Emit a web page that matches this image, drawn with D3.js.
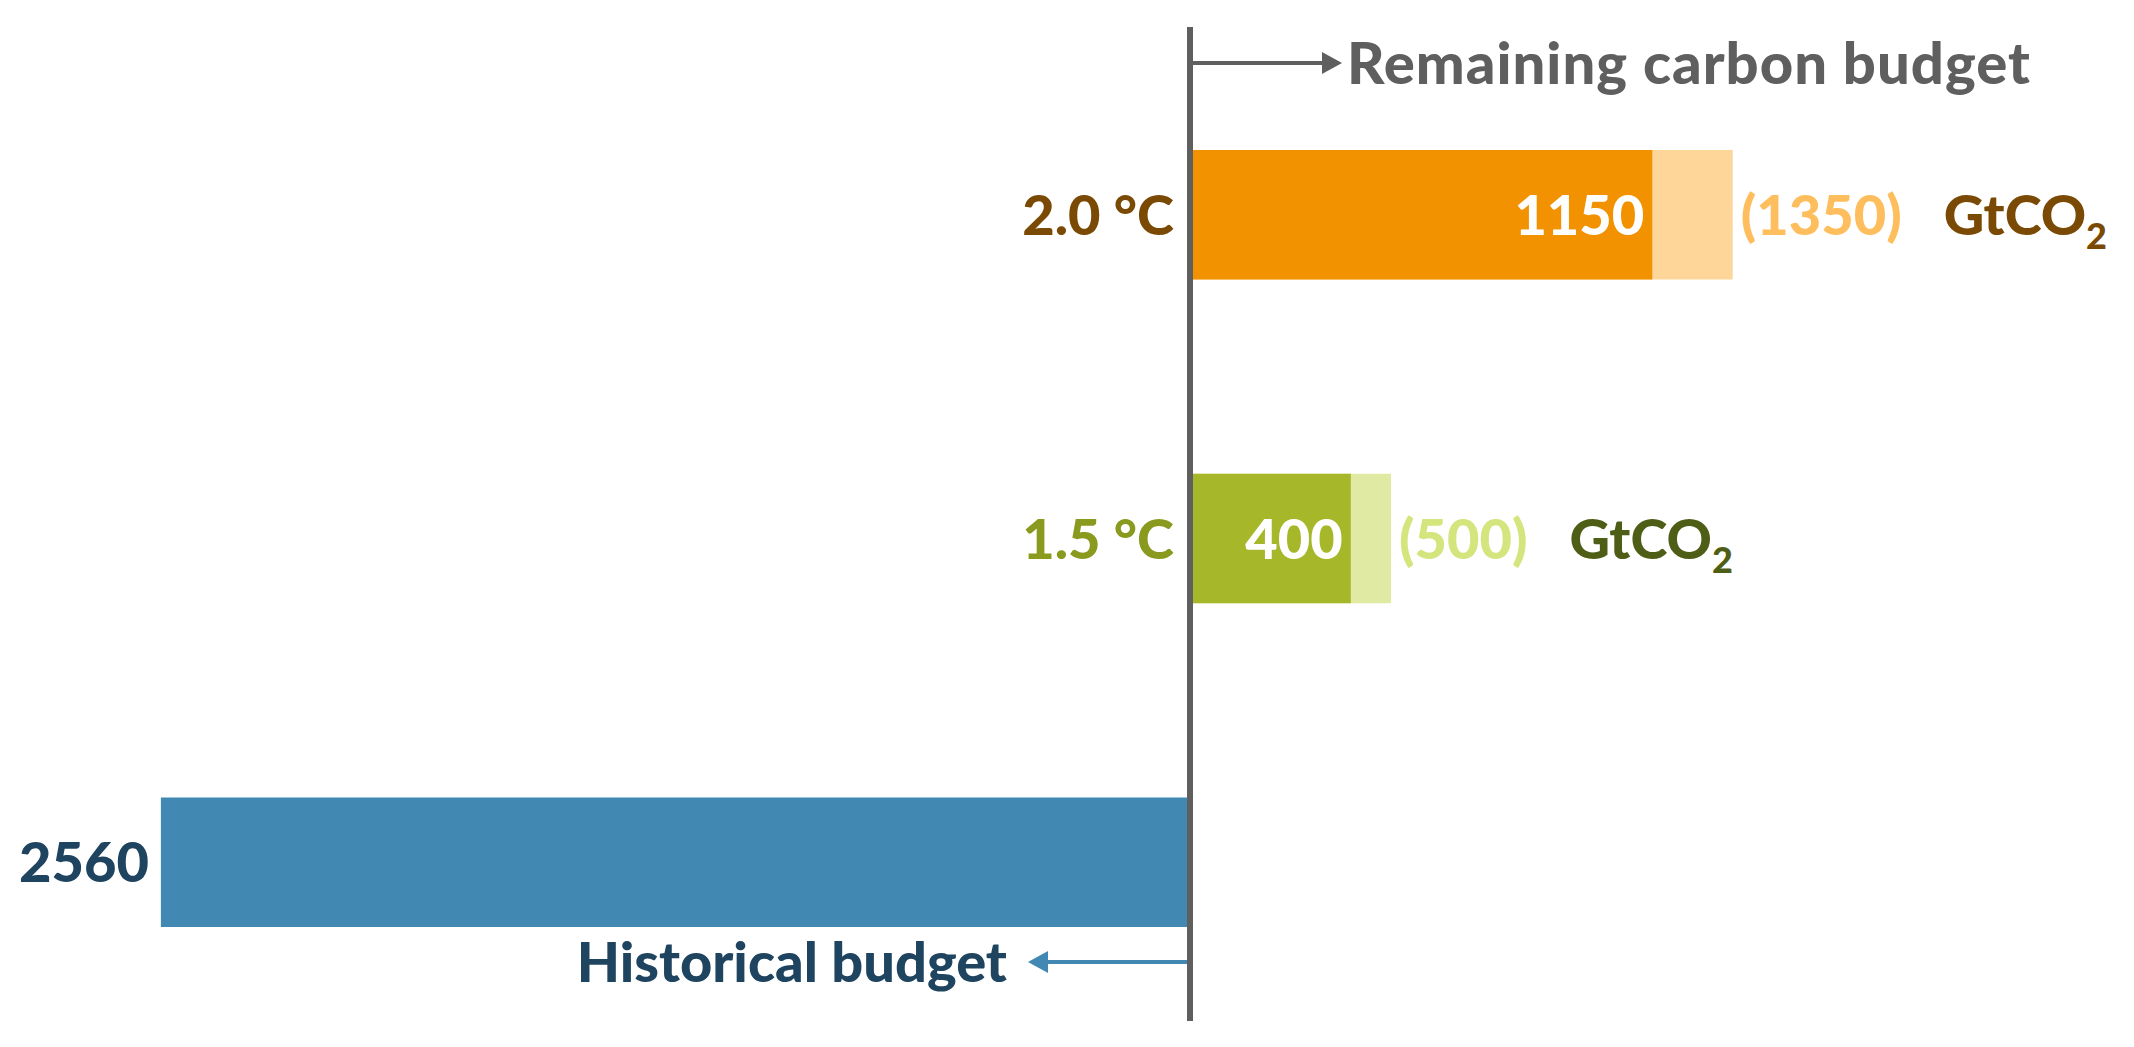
<!DOCTYPE html>
<html><head><meta charset="utf-8">
<script src="https://cdn.jsdelivr.net/npm/d3@7"></script>
<style>body{margin:0;background:#fff}text{font-family:Lato,"Open Sans",sans-serif;font-weight:900}</style>
</head><body><svg id="c" width="2134" height="1047"></svg>
<script>
// remaining budgets (central and upper estimate), historical budget
var targets = ["2.0 °C", "1.5 °C"];
var central = [1150, 400];
var upper = [1350, 500];
var historical = 2560;

var svg = d3.select("#c");
var x0 = 1190;
var x = d3.scaleLinear().domain([0, 1000]).range([0, 402]);
var y = d3.scaleBand().domain(["2.0 °C", "1.5 °C", "hist"]).range([150, 927]).paddingInner(0.6);

var dark = ["#F39200", "#A6B82A"], light = ["#FED699", "#E1EAA3"];
var labelCol = ["#7A4A04", "#8A9A1F"], unitCol = ["#7A4A04", "#4F5E16"], upCol = ["#FFBE5E", "#D5E57E"];
var fs = 56;

targets.forEach(function(t, i) {
  var yy = y(t), h = y.bandwidth(), mid = yy + h / 2 + 20;
  svg.append("rect").attr("x", x0).attr("y", yy).attr("width", x(upper[i])).attr("height", h).attr("fill", light[i]);
  svg.append("rect").attr("x", x0).attr("y", yy).attr("width", x(central[i])).attr("height", h).attr("fill", dark[i]);
  svg.append("text").attr("x", x0 - 16).attr("y", mid).attr("text-anchor", "end").attr("font-size", fs).attr("fill", labelCol[i]).text(t);
  svg.append("text").attr("x", x0 + x(central[i]) - 8).attr("y", mid).attr("text-anchor", "end").attr("font-size", fs).attr("fill", "#fff").text(central[i]);
  var u = svg.append("text").attr("x", x0 + x(upper[i]) + 8).attr("y", mid).attr("font-size", fs);
  u.append("tspan").attr("fill", upCol[i]).text("(" + upper[i] + ")");
  u.append("tspan").attr("fill", unitCol[i]).attr("dx", 42).text("GtCO");
  u.append("tspan").attr("fill", unitCol[i]).attr("font-size", 36).attr("dy", 14).text("2");
});

var hy = y("hist"), hh = y.bandwidth();
svg.append("rect").attr("x", x0 - x(historical)).attr("y", hy).attr("width", x(historical)).attr("height", hh).attr("fill", "#4189B3");
svg.append("text").attr("x", x0 - x(historical) - 12).attr("y", hy + hh / 2 + 20).attr("text-anchor", "end").attr("font-size", fs).attr("fill", "#1F4460").text(historical);

// arrows
svg.append("line").attr("x1", x0).attr("x2", 1330).attr("y1", 63).attr("y2", 63).attr("stroke", "#5F5F5F").attr("stroke-width", 4);
svg.append("path").attr("d", "M1322,52L1342,63L1322,74Z").attr("fill", "#5F5F5F");
svg.append("text").attr("x", 1347).attr("y", 84).attr("font-size", 58).attr("letter-spacing", 1).attr("fill", "#5F5F5F").text("Remaining carbon budget");
svg.append("line").attr("x1", x0).attr("x2", 1040).attr("y1", 962).attr("y2", 962).attr("stroke", "#4189B3").attr("stroke-width", 4);
svg.append("path").attr("d", "M1048,951L1028,962L1048,973Z").attr("fill", "#4189B3");
svg.append("text").attr("x", 1007).attr("y", 982).attr("text-anchor", "end").attr("font-size", fs).attr("fill", "#1F4460").text("Historical budget");

svg.append("line").attr("x1", x0).attr("x2", x0).attr("y1", 27).attr("y2", 1021).attr("stroke", "#5F5F5F").attr("stroke-width", 6);
</script></body></html>
